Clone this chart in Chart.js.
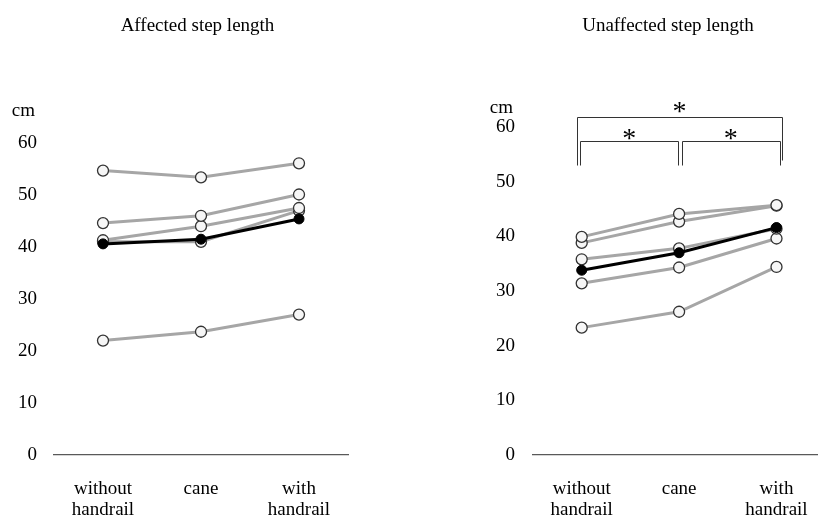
<!DOCTYPE html>
<html>
<head>
<meta charset="utf-8">
<script src="https://cdn.jsdelivr.net/npm/chart.js@4"></script>
<style>
    html, body { margin: 0; padding: 0; background: #fff; overflow: hidden; }
    #page { position: relative; width: 840px; height: 515px; overflow: hidden; }
    #box_affected { position: absolute; left: 0; top: 0; width: 409px; height: 515px; }
    #box_unaffected { position: absolute; left: 409px; top: 0; width: 423px; height: 515px; }
    canvas { display: block; }
</style>
</head>
<body>
<div id="page">
    <div id="box_affected"><canvas id="affected" width="409" height="515" style="width:409px;height:515px"></canvas></div>
    <div id="box_unaffected"><canvas id="unaffected" width="423" height="515" style="width:423px;height:515px"></canvas></div>
</div>
<script>
//类别与刻度
var categories = [["without", "handrail"], "cane", ["with", "handrail"]];
var yTicks = [0, 10, 20, 30, 40, 50, 60];

//患侧步长（每位受试者 + 平均）
var affected1 = [54.7, 53.4, 56.1];
var affected2 = [44.6, 46.0, 50.1];
var affected3 = [41.3, 44.0, 47.5];
var affected4 = [41.0, 41.0, 47.0];
var affected5 = [22.0, 23.7, 27.0];
var affectedMean = [40.6, 41.5, 45.4];

//健侧步长（每位受试者 + 平均）
var unaffected1 = [39.9, 44.1, 45.7];
var unaffected2 = [38.8, 42.7, 45.6];
var unaffected3 = [35.8, 37.8, 41.4];
var unaffected4 = [31.4, 34.3, 39.6];
var unaffected5 = [23.3, 26.2, 34.4];
var unaffectedMean = [33.8, 37.0, 41.6];

//显著差异：[起点类别, 终点类别]
var unaffectedSig = [[0, 2], [0, 1], [1, 2]];

var serif = "'Liberation Serif', 'Times New Roman', serif";

//标题、单位文字与显著性括号
var extraPlugin = {
    id: 'extra',
    afterDraw: function(chart, args, opts) {
        var ctx = chart.ctx;
        var area = chart.chartArea;
        var x = chart.scales.x;
        ctx.save();
        ctx.fillStyle = '#000';
        ctx.font = '19px ' + serif;
        ctx.textBaseline = 'alphabetic';
        ctx.textAlign = 'center';
        ctx.fillText(opts.title, opts.titleX, 31);
        ctx.textAlign = 'right';
        ctx.fillText(opts.unit, area.left - opts.unitRight, opts.unitBaseline);

        ctx.strokeStyle = '#333';
        ctx.lineWidth = 1;
        ctx.font = '28px ' + serif;
        ctx.textAlign = 'center';
        (opts.pairs || []).forEach(function(p) {
            var outer = p[1] - p[0] > 1;
            var level = outer ? area.top - 10.5 : area.top + 13.5;
            var x1, x2;
            if(outer) {
                x1 = x.getPixelForValue(p[0]) - 4.5;
                x2 = x.getPixelForValue(p[1]) + 5.5;
            } else {
                x1 = x.getPixelForValue(p[0]) + (p[0] == 0 ? -1.5 : 2.5);
                x2 = x.getPixelForValue(p[1]) + (p[1] == 2 ? 3.5 : -1);
            }
            var leftEnd = area.top + 38.5;
            var rightEnd = outer ? area.top + 33.5 : area.top + 38.5;
            ctx.beginPath();
            ctx.moveTo(Math.round(x1) + 0.5, leftEnd);
            ctx.lineTo(Math.round(x1) + 0.5, Math.round(level) + 0.5);
            ctx.lineTo(Math.round(x2) + 0.5, Math.round(level) + 0.5);
            ctx.lineTo(Math.round(x2) + 0.5, rightEnd);
            ctx.stroke();
            ctx.fillText('*', (x1 + x2) / 2, level + (outer ? 3 : 6));
        });
        ctx.restore();
    }
};

//受试者折线
function subjectLine(data) {
    return {
        data: data,
        order: 1,
        borderColor: '#a6a6a6',
        borderWidth: 3,
        pointRadius: 5.5,
        pointBackgroundColor: '#f6f6f6',
        pointBorderColor: '#333',
        pointBorderWidth: 1.3
    };
}

//平均折线（画在最上层）
function meanLine(data) {
    return {
        data: data,
        order: 0,
        borderColor: '#000',
        borderWidth: 3,
        pointRadius: 5,
        pointBackgroundColor: '#000',
        pointBorderColor: '#000',
        pointBorderWidth: 1
    };
}

//绘制步长图
function stepChart(id, title, subjects, mean, opts) {
    var datasets = subjects.map(subjectLine);
    datasets.push(meanLine(mean));
    return new Chart(document.getElementById(id), {
        type: 'line',
        data: {
            labels: categories,
            datasets: datasets
        },
        options: {
            responsive: false,
            animation: false,
            layout: {
                padding: { left: 0, right: opts.padRight, top: opts.padTop, bottom: 0 }
            },
            plugins: {
                legend: { display: false },
                tooltip: { enabled: false },
                title: { display: false },
                extra: {
                    title: title,
                    titleX: opts.titleX,
                    unit: 'cm',
                    unitRight: opts.tickPad + 2,
                    unitBaseline: opts.unitBaseline,
                    pairs: opts.pairs
                }
            },
            scales: {
                x: {
                    offset: true,
                    grid: { display: false, drawTicks: false },
                    border: { display: true, color: '#595959', width: 1.2 },
                    ticks: {
                        color: '#000',
                        padding: 24,
                        maxRotation: 0,
                        autoSkip: false,
                        font: { family: serif, size: 19, lineHeight: 1.1 }
                    },
                    afterFit: function(scale) {
                        scale.height = 60;
                        scale.paddingLeft = 0;
                        scale.paddingRight = 0;
                    }
                },
                y: {
                    min: yTicks[0],
                    max: yTicks[yTicks.length - 1],
                    grid: { display: false, drawTicks: false },
                    border: { display: false },
                    ticks: {
                        color: '#000',
                        padding: opts.tickPad,
                        font: { family: serif, size: 19 }
                    },
                    afterBuildTicks: function(scale) {
                        scale.ticks = yTicks.map(function(v) { return { value: v }; });
                    },
                    afterFit: function(scale) {
                        scale.width = opts.axisWidth;
                    }
                }
            }
        },
        plugins: [extraPlugin]
    });
}

stepChart('affected', 'Affected step length',
    [affected1, affected2, affected3, affected4, affected5], affectedMean,
    { padRight: 61, padTop: 143, axisWidth: 54, tickPad: 17, titleX: 197.5, unitBaseline: 116, pairs: [] });

stepChart('unaffected', 'Unaffected step length',
    [unaffected1, unaffected2, unaffected3, unaffected4, unaffected5], unaffectedMean,
    { padRight: 0, padTop: 127, axisWidth: 124, tickPad: 18, titleX: 259, unitBaseline: 113, pairs: unaffectedSig });
</script>
</body>
</html>
